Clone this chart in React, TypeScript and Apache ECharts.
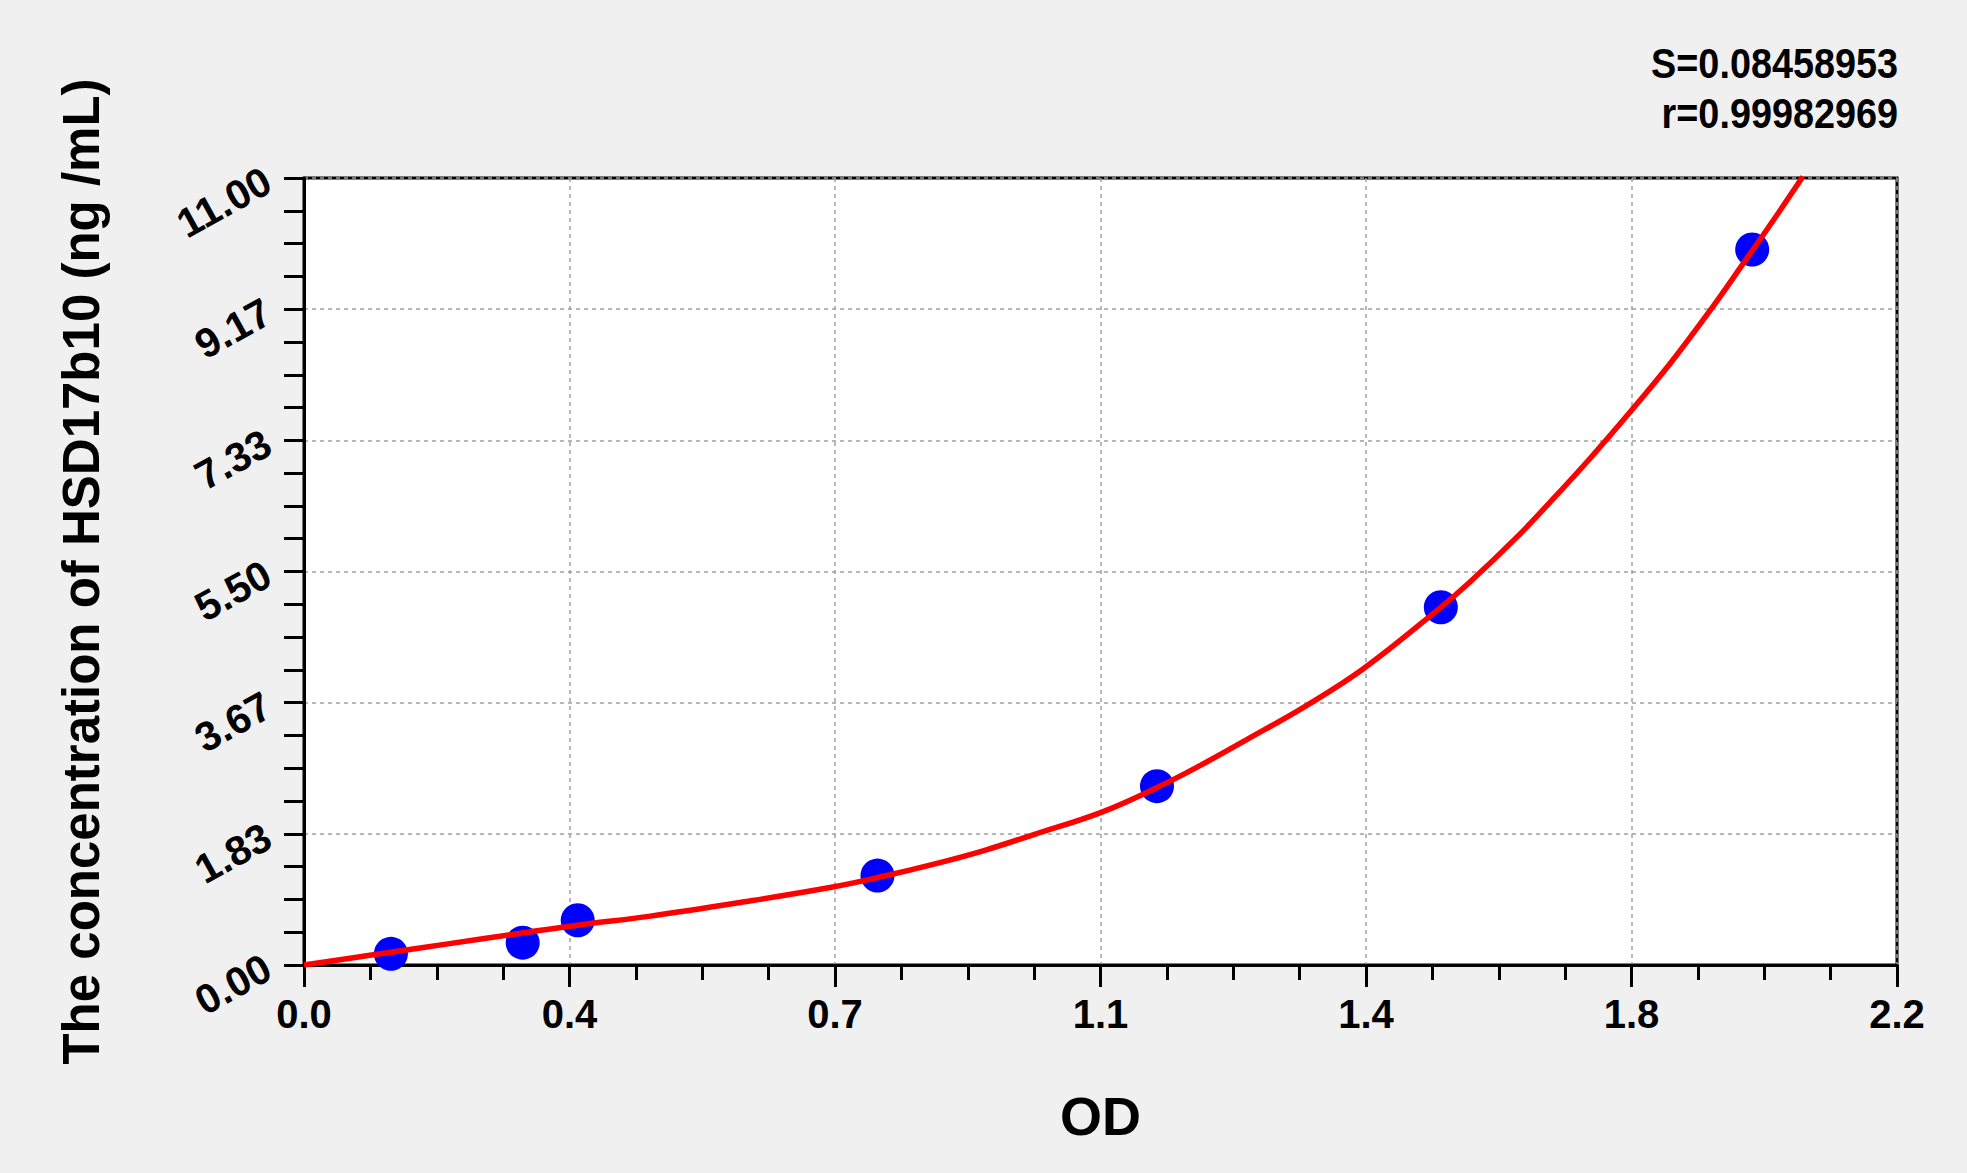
import React, { useEffect, useRef } from "react";
import * as echarts from "echarts";

// Standard points (OD, concentration)
const odValues = [0.12, 0.302, 0.378, 0.792, 1.178, 1.57, 2.0];
const concValues = [0.156, 0.3125, 0.625, 1.25, 2.5, 5, 10];

// Fitted curve
const curveOd = [0, 0.091, 0.201, 0.297, 0.38, 0.476, 0.6, 0.73, 0.8, 0.87, 0.939, 1.01, 1.1, 1.178, 1.238, 1.302, 1.385, 1.463, 1.57, 1.611, 1.675, 1.721, 1.776, 1.834, 1.887, 1.942, 1.988, 2.034, 2.07];
const curveConc = [0, 0.136, 0.299, 0.44, 0.56, 0.68, 0.87, 1.09, 1.24, 1.41, 1.6, 1.83, 2.13, 2.48, 2.79, 3.15, 3.63, 4.14, 5.0, 5.36, 5.98, 6.47, 7.08, 7.76, 8.41, 9.15, 9.81, 10.48, 11.02];

const xTickLabels = ["0.0", "0.4", "0.7", "1.1", "1.4", "1.8", "2.2"];
const yTickLabels = ["0.00", "1.83", "3.67", "5.50", "7.33", "9.17", "11.00"];

const statLines = ["S=0.08458953", "r=0.99982969"];

const FONT = '"Liberation Sans", Arial, sans-serif';

export default function App() {
  const ref = useRef<HTMLDivElement>(null);
  useEffect(() => {
    if (!ref.current) return;
    const chart = echarts.init(ref.current, undefined, { renderer: "svg" });
    const xMax = 2.2;
    const yMax = 11;
    chart.setOption({
      animation: false,
      backgroundColor: "#f0f0f0",
      grid: {
        left: 304,
        right: 70,
        top: 178,
        bottom: 208,
        show: true,
        backgroundColor: "#ffffff",
        borderColor: "#000000",
        borderWidth: 3,
      },
      graphic: statLines.map((t, i) => ({
        type: "text",
        x: 1898,
        y: 63 + i * 50,
        scaleX: 0.9,
        style: {
          text: t,
          textAlign: "right",
          textVerticalAlign: "middle",
          font: `bold 42px ${FONT}`,
          fill: "#000000",
        },
      })),
      xAxis: {
        type: "value",
        min: 0,
        max: xMax,
        interval: xMax / 6,
        name: "OD",
        nameLocation: "middle",
        nameGap: 124,
        nameTextStyle: { fontFamily: FONT, fontWeight: "bold", fontSize: 54, color: "#000" },
        axisLine: { show: true, lineStyle: { color: "#000", width: 3 } },
        axisTick: { show: true, length: 22, lineStyle: { color: "#000", width: 3 } },
        minorTick: { show: true, splitNumber: 4, length: 15, lineStyle: { color: "#000", width: 3 } },
        axisLabel: {
          margin: 29,
          fontFamily: FONT,
          fontWeight: "bold",
          fontSize: 40,
          color: "#000",
          showMinLabel: true,
          showMaxLabel: true,
          formatter: (_v: number, idx: number) => xTickLabels[idx] ?? "",
        },
        splitLine: { show: true, lineStyle: { color: "#a0a0a0", width: 1.5, type: [4, 4] } },
      },
      yAxis: {
        type: "value",
        min: 0,
        max: yMax,
        interval: yMax / 6,
        name: "The concentration of HSD17b10 (ng /mL)",
        nameLocation: "middle",
        nameGap: 197,
        nameTextStyle: { fontFamily: FONT, fontWeight: "bold", fontSize: 51, color: "#000" },
        axisLine: { show: true, lineStyle: { color: "#000", width: 3 } },
        axisTick: { show: true, length: 20, lineStyle: { color: "#000", width: 3 } },
        minorTick: { show: true, splitNumber: 4, length: 20, lineStyle: { color: "#000", width: 3 } },
        axisLabel: {
          margin: 36,
          rotate: 29,
          fontFamily: FONT,
          fontWeight: "bold",
          fontSize: 41,
          color: "#000",
          showMinLabel: true,
          showMaxLabel: true,
          formatter: (_v: number, idx: number) => yTickLabels[idx] ?? "",
        },
        splitLine: { show: true, lineStyle: { color: "#a0a0a0", width: 1.5, type: [4, 4] } },
      },
      series: [
        {
          type: "scatter",
          data: odValues.map((x, i) => [x, concValues[i]]),
          symbol: "circle",
          symbolSize: 34,
          itemStyle: { color: "#0000ff", opacity: 1 },
          z: 2,
        },
        {
          type: "line",
          data: curveOd.map((x, i) => [x, curveConc[i]]),
          showSymbol: false,
          smooth: 0.4,
          clip: true,
          lineStyle: { color: "#ff0000", width: 5.5 },
          z: 3,
        },
      ],
    });
    return () => chart.dispose();
  }, []);
  return (
    <div
      style={{ position: "fixed", left: 0, top: 0, width: 1967, height: 1173, background: "#f0f0f0" }}
    >
      <div ref={ref} style={{ width: 1967, height: 1173 }} />
    </div>
  );
}
